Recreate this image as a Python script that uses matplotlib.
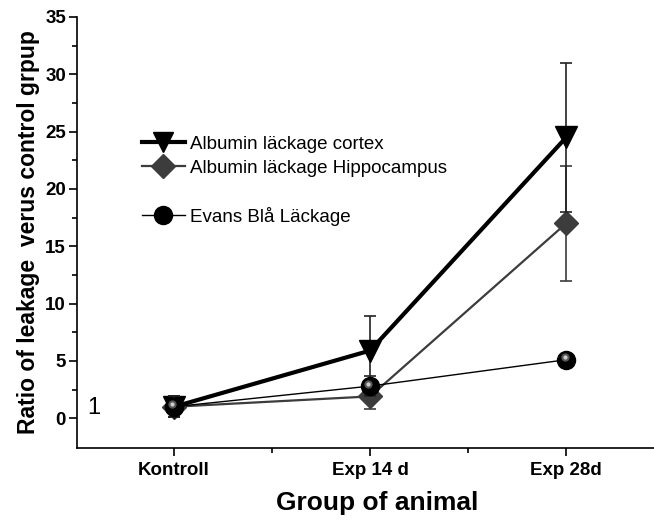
import numpy as np
import matplotlib.pyplot as plt
from matplotlib.lines import Line2D
from matplotlib.transforms import offset_copy

plt.rcParams['font.family'] = ['Liberation Sans', 'DejaVu Sans']

# Data
groups = ['Kontroll', 'Exp 14 d', 'Exp 28d']
x = np.array([1, 2, 3])

cortex = [1.0, 5.9, 24.5]
cortex_err = [0.9, 3.0, 6.5]

hippo = [1.0, 1.9, 17.0]
hippo_err = [0.9, 1.1, 5.0]

evans = [1.0, 2.8, 5.1]
evans_err = [0.9, 0.9, 0.5]

fig = plt.figure(figsize=(6.54, 5.2), dpi=100)
ax = fig.add_axes([77 / 654, 72 / 520, 600 / 654, 431 / 520])

# Albumin cortex: thick black line, downward triangles
ax.errorbar(x, cortex, yerr=cortex_err, color='black', lw=3, marker='v',
            markersize=16, ecolor='#222222', elinewidth=1.2, capsize=4,
            capthick=1.2, zorder=4)
# Albumin hippocampus: dark grey, diamonds
ax.errorbar(x, hippo, yerr=hippo_err, color='#3c3c3c', lw=1.6, marker='D',
            markersize=12, ecolor='#3c3c3c', elinewidth=1.2, capsize=4,
            capthick=1.2, zorder=3)
# Evans blue: thin black line, shaded balls
ax.errorbar(x, evans, yerr=evans_err, color='black', lw=1, marker='o',
            markersize=13, ecolor='#222222', elinewidth=1.2, capsize=4,
            capthick=1.2, zorder=5)
hl = offset_copy(ax.transData, fig=fig, x=-1.2, y=1.8, units='points')
ax.plot(x, evans, ls='none', marker='o', markersize=6, color='#555555',
        markeredgewidth=0, transform=hl, zorder=6)
ax.plot(x, evans, ls='none', marker='o', markersize=3, color='#cccccc',
        markeredgewidth=0, transform=hl, zorder=7)

ax.text(0.59, 0.9, '1', fontsize=17, color='black', va='center', ha='center')

ax.set_xlim(0.505, 3.565)
ax.set_ylim(-2.6, 35)
ax.set_xticks(x)
ax.set_xticklabels(groups, fontweight='bold', fontsize=13.5)
ax.set_xticks([1.5, 2.5], minor=True)
ax.set_yticks(np.arange(0, 36, 5))
ax.set_yticks(np.arange(2.5, 35, 5), minor=True)
for lab in ax.get_yticklabels():
    lab.set_fontweight('bold')
    lab.set_fontsize(13.5)

ax.tick_params(axis='both', which='major', direction='out', length=6, width=1.2)
ax.tick_params(axis='both', which='minor', direction='out', length=3.5, width=1.2)
ax.tick_params(axis='x', which='major', pad=4)
ax.tick_params(axis='y', which='major', pad=2)
ax.spines['top'].set_visible(False)
ax.spines['right'].set_visible(False)
ax.spines['left'].set_linewidth(1.2)
ax.spines['bottom'].set_linewidth(1.2)

ax.set_xlabel('Group of animal', fontsize=19, fontweight='bold', labelpad=9)
ax.set_ylabel('Ratio of leakage  verus control grpup', fontsize=16.5,
              fontweight='bold', labelpad=4)

handles = [
    Line2D([], [], color='black', lw=3, marker='v', markersize=15),
    Line2D([], [], color='#3c3c3c', lw=1.6, marker='D', markersize=12),
    Line2D([], [], color='none'),
    Line2D([], [], color='black', lw=1, marker='o', markersize=13),
]
labels = ['Albumin läckage cortex', 'Albumin läckage Hippocampus', '',
          'Evans Blå Läckage']
ax.legend(handles, labels, loc='upper left', bbox_to_anchor=(0.095, 0.742),
          frameon=False, fontsize=13.5, handlelength=2.3, handletextpad=0.3,
          labelspacing=0.35, borderaxespad=0)

plt.savefig('out.png', dpi=100)
plt.close()
